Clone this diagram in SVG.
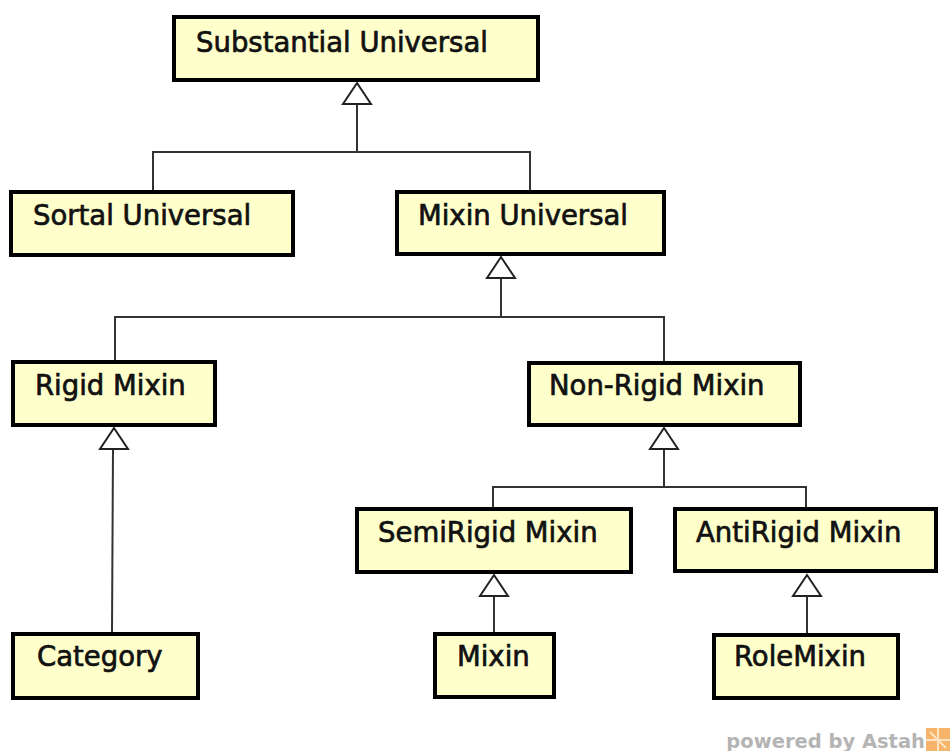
<svg xmlns="http://www.w3.org/2000/svg" width="950" height="751" viewBox="0 0 950 751">
  <defs>
    <style>
      .box { fill: #ffffcc; stroke: #000; stroke-width: 4; }
      .lbl { font-family: "DejaVu Sans", "Liberation Sans", sans-serif; font-size: 27.5px; fill: #111; stroke: #111; stroke-width: 0.7; }
      .edge { fill: none; stroke: #333; stroke-width: 2; }
      .head { fill: #fff; stroke: #222; stroke-width: 2; stroke-linejoin: miter; }
      .brand { font-family: "DejaVu Sans", "Liberation Sans", sans-serif; font-size: 19.5px; font-weight: bold; fill: #b4b4b4; }
    </style>
  </defs>
  <rect width="950" height="751" fill="#fff"/>

  <!-- generalization connectors -->
  <g id="connectors">
    <!-- Substantial Universal children -->
    <polyline class="edge" points="153,190 153,152 530,152 530,190"/>
    <line class="edge" x1="357" y1="104" x2="357" y2="152"/>
    <polygon class="head" points="357,83 343,104 371,104"/>

    <!-- Mixin Universal children -->
    <polyline class="edge" points="115,360 115,317 664,317 664,361"/>
    <line class="edge" x1="501" y1="278" x2="501" y2="317"/>
    <polygon class="head" points="501,257 487,278 515,278"/>

    <!-- Rigid Mixin child -->
    <line class="edge" x1="113" y1="449" x2="112" y2="632"/>
    <polygon class="head" points="114,428 100,449 128,449"/>

    <!-- Non-Rigid Mixin children -->
    <polyline class="edge" points="493,507 493,487 806,487 806,507"/>
    <line class="edge" x1="664" y1="449" x2="664" y2="487"/>
    <polygon class="head" points="664,428 650,449 678,449"/>

    <!-- SemiRigid Mixin child -->
    <line class="edge" x1="494" y1="596" x2="494" y2="632"/>
    <polygon class="head" points="494,575 480,596 508,596"/>

    <!-- AntiRigid Mixin child -->
    <line class="edge" x1="807" y1="596" x2="807" y2="633"/>
    <polygon class="head" points="807,575 793,596 821,596"/>
  </g>

  <g id="substantial-universal">
    <rect class="box" x="174" y="17" width="364" height="63"/>
    <text class="lbl" x="196" y="52">Substantial Universal</text>
  </g>
  <g id="sortal-universal">
    <rect class="box" x="11" y="192" width="282" height="63"/>
    <text class="lbl" x="33" y="225">Sortal Universal</text>
  </g>
  <g id="mixin-universal">
    <rect class="box" x="397" y="192" width="267" height="62"/>
    <text class="lbl" x="418" y="225">Mixin Universal</text>
  </g>
  <g id="rigid-mixin">
    <rect class="box" x="13" y="362" width="202" height="63"/>
    <text class="lbl" x="35" y="395">Rigid Mixin</text>
  </g>
  <g id="non-rigid-mixin">
    <rect class="box" x="529" y="363" width="271" height="62"/>
    <text class="lbl" x="549" y="395">Non-Rigid Mixin</text>
  </g>
  <g id="semirigid-mixin">
    <rect class="box" x="357" y="509" width="274" height="63"/>
    <text class="lbl" x="378" y="542">SemiRigid Mixin</text>
  </g>
  <g id="antirigid-mixin">
    <rect class="box" x="675" y="509" width="261" height="62"/>
    <text class="lbl" x="696" y="542">AntiRigid Mixin</text>
  </g>
  <g id="category">
    <rect class="box" x="13" y="634" width="185" height="64"/>
    <text class="lbl" x="37" y="666">Category</text>
  </g>
  <g id="mixin">
    <rect class="box" x="435" y="634" width="119" height="63"/>
    <text class="lbl" x="457" y="666">Mixin</text>
  </g>
  <g id="rolemixin">
    <rect class="box" x="714" y="635" width="184" height="63"/>
    <text class="lbl" x="734" y="666">RoleMixin</text>
  </g>

  <!-- tool watermark -->
  <g id="watermark">
    <text class="brand" x="925" y="748" text-anchor="end">powered by Astah</text>
    <rect x="926" y="728" width="24" height="23" fill="#f5b46a"/>
    <path d="M926,740 L950,740 M938,728 L938,751 M930,732 L946,748" stroke="#fde3c0" stroke-width="2" fill="none"/>
  </g>
</svg>
